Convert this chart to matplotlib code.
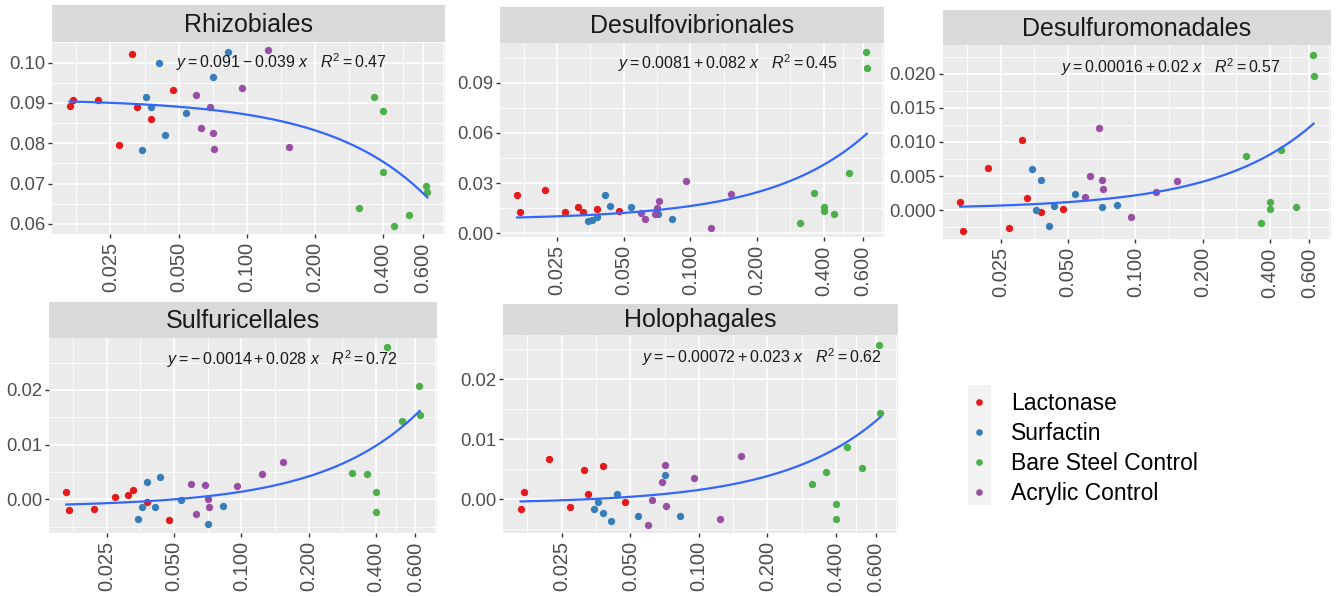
import numpy as np
import matplotlib
matplotlib.use("Agg")
import matplotlib.pyplot as plt
from matplotlib.lines import Line2D
from matplotlib.patches import Rectangle

plt.rcParams['font.family'] = ['Liberation Sans', 'DejaVu Sans']
plt.rcParams['mathtext.fontset'] = 'custom'
plt.rcParams['mathtext.rm'] = 'Liberation Sans'
plt.rcParams['mathtext.it'] = 'Liberation Sans:italic'

# ---------------- data ----------------
groups = ["Lactonase", "Surfactin", "Bare Steel Control", "Acrylic Control"]
group_colors = ["#E41A1C", "#377EB8", "#4DAF4A", "#984EA3"]

x_lactonase = [0.0165, 0.0170, 0.0220, 0.0272, 0.0312, 0.0327, 0.0378, 0.0474]
x_surfactin = [0.0345, 0.0360, 0.0378, 0.0411, 0.0435, 0.0540, 0.0712, 0.0825]
x_steel = [0.314, 0.363, 0.400, 0.401, 0.446, 0.522, 0.620, 0.627]
x_acrylic = [0.0598, 0.0625, 0.0690, 0.0710, 0.0720, 0.0955, 0.124, 0.153]

panels = ["Rhizobiales", "Desulfovibrionales", "Desulfuromonadales",
          "Sulfuricellales", "Holophagales"]

rhizo_lactonase = [0.0892, 0.0906, 0.0906, 0.0796, 0.1022, 0.0891, 0.0861, 0.0932]
rhizo_surfactin = [0.0784, 0.0915, 0.0891, 0.0998, 0.0820, 0.0875, 0.0963, 0.1027]
rhizo_steel = [0.0640, 0.0915, 0.0880, 0.0729, 0.0596, 0.0621, 0.0693, 0.0680]
rhizo_acrylic = [0.0920, 0.0838, 0.0891, 0.0826, 0.0786, 0.0937, 0.1030, 0.0790]

dvib_lactonase = [0.0227, 0.0129, 0.0257, 0.0125, 0.0157, 0.0125, 0.0147, 0.0135]
dvib_surfactin = [0.0074, 0.0080, 0.0100, 0.0227, 0.0163, 0.0157, 0.0117, 0.0084]
dvib_steel = [0.0064, 0.0239, 0.0159, 0.0135, 0.0113, 0.0358, 0.1085, 0.0986]
dvib_acrylic = [0.0119, 0.0086, 0.0113, 0.0149, 0.0195, 0.0311, 0.0032, 0.0235]

dmon_lactonase = [0.00118, -0.00304, 0.00623, -0.0026, 0.01034, 0.00172, -0.00034, 0.0002]
dmon_surfactin = [0.00608, 0.00005, 0.00441, -0.00235, 0.00054, 0.0023, 0.0004, 0.00074]
dmon_steel = [0.00789, -0.00191, 0.00113, 0.0002, 0.00877, 0.0004, 0.0228, 0.01966]
dmon_acrylic = [0.0019, 0.00505, 0.01206, 0.00441, 0.00309, -0.00108, 0.0026, 0.00426]

sulf_lactonase = [0.0014, -0.0019, -0.0018, 0.0005, 0.0008, 0.0018, -0.0005, -0.0037]
sulf_surfactin = [-0.0036, -0.00146, 0.0032, -0.00146, 0.0040, -0.0001, -0.0045, -0.0012]
sulf_steel = [0.0048, 0.0046, 0.0013, -0.0024, 0.0278, 0.0143, 0.0208, 0.0154]
sulf_acrylic = [0.0028, -0.0026, 0.0026, 0.0, -0.00146, 0.0024, 0.0046, 0.0069]

holo_lactonase = [-0.00156, 0.00122, 0.00678, -0.00122, 0.00483, 0.00083, 0.0055, -0.00039]
holo_surfactin = [-0.00161, -0.00044, -0.0022, -0.0036, 0.00094, -0.0028, 0.0041, -0.0027]
holo_steel = [0.0025, 0.0046, -0.00083, -0.0033, 0.0088, 0.0052, 0.0258, 0.0144]
holo_acrylic = [-0.0042, -0.0001, 0.0029, 0.0057, -0.0011, 0.0036, -0.0032, 0.0073]

fit_intercepts = [0.091, 0.0081, 0.00016, -0.0014, -0.00072]
fit_slopes = [-0.039, 0.082, 0.02, 0.028, 0.023]
fit_r2 = [0.47, 0.45, 0.57, 0.72, 0.62]
intercept_labels = ["0.091", "0.0081", "0.00016", "-0.0014", "-0.00072"]
slope_labels = ["0.039", "0.082", "0.02", "0.028", "0.023"]

x_ticks = [0.025, 0.05, 0.1, 0.2, 0.4, 0.6]
x_ticklabels = ["0.025", "0.050", "0.100", "0.200", "0.400", "0.600"]
y_ticks = [[0.06, 0.07, 0.08, 0.09, 0.10],
           [0.00, 0.03, 0.06, 0.09],
           [0.000, 0.005, 0.010, 0.015, 0.020],
           [0.00, 0.01, 0.02],
           [0.00, 0.01, 0.02]]
y_ticklabels = [["0.06", "0.07", "0.08", "0.09", "0.10"],
                ["0.00", "0.03", "0.06", "0.09"],
                ["0.000", "0.005", "0.010", "0.015", "0.020"],
                ["0.00", "0.01", "0.02"],
                ["0.00", "0.01", "0.02"]]

xs = [x_lactonase, x_surfactin, x_steel, x_acrylic]
ys = [[rhizo_lactonase, rhizo_surfactin, rhizo_steel, rhizo_acrylic],
      [dvib_lactonase, dvib_surfactin, dvib_steel, dvib_acrylic],
      [dmon_lactonase, dmon_surfactin, dmon_steel, dmon_acrylic],
      [sulf_lactonase, sulf_surfactin, sulf_steel, sulf_acrylic],
      [holo_lactonase, holo_surfactin, holo_steel, holo_acrylic]]

# ---------------- layout (pixels) ----------------
W, H = 1336, 596
fig = plt.figure(figsize=(W / 100, H / 100), dpi=100)

# plot area boxes: (x0, y0_top, x1, y1_bottom, strip top)
boxes = [(52, 42, 445, 234, 5),
         (500, 43, 884, 237, 7),
         (943, 45, 1331, 239, 10),
         (49, 338, 437, 533, 302),
         (503, 335, 898, 533, 304)]
ylims = [(0.0575, 0.1051), (-0.0022, 0.1137), (-0.00426, 0.02426),
         (-0.00615, 0.0295), (-0.0056, 0.0274)]
eq_pos = [(0.852, 0.896), (0.880, 0.897), (0.869, 0.887), (0.899, 0.892), (0.958, 0.889)]

xlim = (0.0138, 0.75)
all_x = np.concatenate([np.array(v) for v in xs])


def fig_rect(x0, y0, x1, y1):
    return [x0 / W, 1 - y1 / H, (x1 - x0) / W, (y1 - y0) / H]


def minor_mid(ticks, lo, hi, log=False):
    t = np.array(ticks, dtype=float)
    if log:
        t = np.log(t)
    step = np.diff(t)
    mids = list(t[:-1] + step / 2)
    mids.append(t[0] - step[0] / 2)
    mids.append(t[-1] + step[-1] / 2)
    mids = np.array(mids)
    if log:
        mids = np.exp(mids)
    return [m for m in mids if lo < m < hi]


for i, name in enumerate(panels):
    x0, y0, x1, y1, st = boxes[i]
    ax = fig.add_axes(fig_rect(x0, y0, x1, y1))
    ax.set_facecolor("#EBEBEB")
    ax.set_xscale("log")
    ax.set_xlim(*xlim)
    ax.set_ylim(*ylims[i])
    for s in ax.spines.values():
        s.set_visible(False)

    # grid
    for m in minor_mid(x_ticks, *xlim, log=True):
        ax.axvline(m, color="white", lw=0.6, zorder=0.5)
    for m in minor_mid(y_ticks[i], *ylims[i]):
        ax.axhline(m, color="white", lw=0.6, zorder=0.5)
    for t in x_ticks:
        ax.axvline(t, color="white", lw=1.2, zorder=0.6)
    for t in y_ticks[i]:
        ax.axhline(t, color="white", lw=1.2, zorder=0.6)

    ax.set_xticks(x_ticks)
    ax.set_xticklabels(x_ticklabels, rotation=90)
    ax.xaxis.set_minor_locator(matplotlib.ticker.NullLocator())
    ax.set_yticks(y_ticks[i])
    ax.set_yticklabels(y_ticklabels[i])
    ax.tick_params(axis="x", labelsize=14.5, colors="#333333", labelcolor="#4D4D4D",
                   length=3, width=1, pad=3)
    ax.tick_params(axis="y", labelsize=13.3, colors="#333333", labelcolor="#4D4D4D",
                   length=3, width=1, pad=2)

    for g in range(4):
        ax.scatter(xs[g], ys[i][g], s=28, color=group_colors[g], zorder=3,
                   linewidths=0)

    xx = np.geomspace(all_x.min(), all_x.max(), 200)
    ax.plot(xx, fit_intercepts[i] + fit_slopes[i] * xx, color="#3366FF", lw=1.6, zorder=4)

    sign = "-" if fit_slopes[i] < 0 else "+"
    ic = intercept_labels[i].replace("-", "-\\,")
    label = (r"$y = %s %s %s\ x\quad R^2 = %.2f$"
             % (ic, sign, slope_labels[i], fit_r2[i]))
    ax.text(eq_pos[i][0], eq_pos[i][1], label, transform=ax.transAxes,
            ha="right", va="center", fontsize=11.5, color="#1A1A1A", zorder=5)

    # strip
    sax = fig.add_axes(fig_rect(x0, st, x1, y0))
    sax.set_facecolor("#D9D9D9")
    sax.set_xticks([])
    sax.set_yticks([])
    for s in sax.spines.values():
        s.set_visible(False)
    sax.text(0.5, 0.47, name, transform=sax.transAxes, ha="center", va="center",
             fontsize=18, color="#1A1A1A")

# legend
fig.patches.append(Rectangle((968 / W, 1 - 505 / H), 23 / W, 120 / H,
                             transform=fig.transFigure, facecolor="#F2F2F2",
                             edgecolor="none", zorder=0))
handles = [Line2D([], [], marker="o", linestyle="none", markersize=4.8,
                  markerfacecolor=c, markeredgewidth=0) for c in group_colors]
fig.legend(handles, groups, loc="upper left",
           bbox_to_anchor=(972 / W, 1 - 392 / H), frameon=False,
           fontsize=16.5, handlelength=0.6, handletextpad=1.1, labelspacing=0.30,
           borderpad=0, borderaxespad=0)

fig.savefig("out.png", dpi=100)
